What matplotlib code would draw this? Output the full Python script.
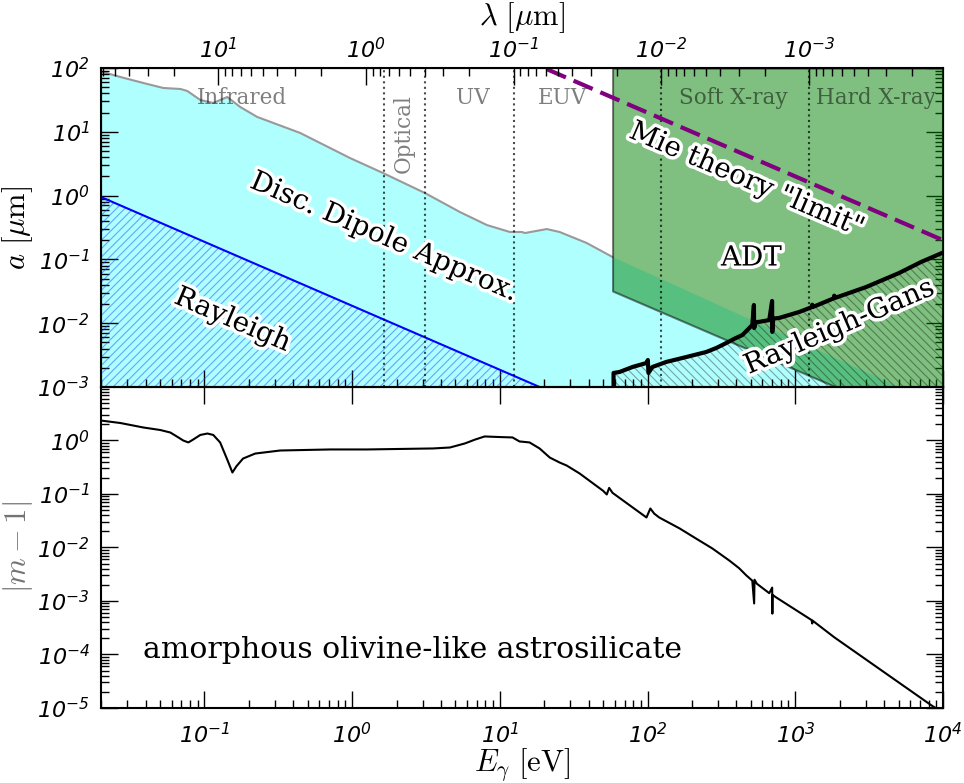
import numpy as np
import matplotlib
matplotlib.use('Agg')
import matplotlib.pyplot as plt
import matplotlib.patheffects as pe
from matplotlib.ticker import FuncFormatter, LogLocator, NullFormatter
from matplotlib.transforms import blended_transform_factory

plt.rcParams['mathtext.fontset'] = 'custom'
plt.rcParams['mathtext.rm'] = 'DejaVu Sans:italic'
plt.rcParams['mathtext.it'] = 'DejaVu Sans:italic'
plt.rcParams['mathtext.default'] = 'it'
plt.rcParams['hatch.linewidth'] = 0.8

HC = 1.23984  # eV * um

# --- top panel: regimes of validity (E in eV, a in um) ---
E_dda = [0.02, 0.0271, 0.0387, 0.0528, 0.0689, 0.0768, 0.094, 0.115, 0.143, 0.175,
         0.228, 0.446, 0.969, 1.62, 3.11, 5.37, 8.17, 11.7, 14.1, 14.8, 20.8, 25.4,
         38.7, 58.0]
a_dda = [88.0, 72.2, 58.2, 48.6, 46.9, 43.6, 31.5, 28.3, 35.1, 24.5,
         17.1, 9.58, 3.88, 2.26, 1.10, 0.553, 0.346, 0.269, 0.269, 0.259, 0.299, 0.269,
         0.181, 0.109]
E_dda_hi = [58.0, 5046.0, 10000.0]
a_dda_hi = [0.109, 0.001, 0.0005]

E_ray = [0.02, 18.6]
a_ray = [0.95, 0.001]

E_mie = [20.8, 10000.0]
a_mie = [96.0, 0.2]

E_adt = [58.0, 10000.0]
a_adt = [0.032, 0.00019]

E_rg = [58.9, 58.9, 64.7, 79.2, 98.5, 100.5, 101.5, 108, 134, 183, 250, 293, 342, 387,
        439, 512, 525, 527, 540, 571, 667, 697, 699, 710, 780, 1064, 1290, 1303, 1320,
        1820, 1836, 1850, 3020, 5046, 7100, 10000]
a_rg = [0.001, 0.00166, 0.00172, 0.00206, 0.00238, 0.00265, 0.00166, 0.00206, 0.00247,
        0.00295, 0.00354, 0.0041, 0.0049, 0.0057, 0.00653, 0.00937, 0.0193, 0.0084,
        0.0104, 0.0105, 0.0112, 0.0223, 0.0073, 0.0118, 0.0121, 0.015, 0.0178, 0.0195,
        0.018, 0.0245, 0.027, 0.0248, 0.0369, 0.0612, 0.091, 0.128]

# wavelength boundaries between bands (um)
lam_bounds = [0.75, 0.4, 0.1, 0.01, 0.001]
band_names = ['Infrared', 'UV', 'EUV', 'Soft X-ray', 'Hard X-ray']
band_E = [0.181, 6.57, 26.7, 381, 3525]
lam_ticks = [10, 1, 0.1, 0.01, 0.001]

# --- bottom panel: |m-1| of astrosilicate ---
E_m = [0.02, 0.0271, 0.0387, 0.0504, 0.0589, 0.0668, 0.072, 0.078, 0.084, 0.094,
       0.105, 0.115, 0.128, 0.143, 0.155, 0.165, 0.183, 0.221, 0.326, 0.71, 1.26,
       3.53, 4.6, 5.8, 6.8, 7.9, 10.0, 12.2, 13.6, 15.9, 18.6, 21.8, 25.4, 28.4, 34.7,
       50.0, 53.0, 55.0, 58.0, 98.4, 104.5, 111, 120, 165, 214, 275, 358, 417, 467,
       512, 527, 530, 550, 667, 698, 700, 702, 745, 1290, 1303, 1310, 1836, 8430, 10000]
m_1 = [2.36, 2.12, 1.75, 1.57, 1.41, 1.14, 1.0, 0.92, 1.04, 1.27,
       1.35, 1.27, 0.92, 0.44, 0.252, 0.33, 0.46, 0.57, 0.65, 0.68, 0.68,
       0.71, 0.74, 0.88, 1.04, 1.19, 1.16, 1.14, 0.96, 0.92, 0.71, 0.48, 0.388, 0.34, 0.242,
       0.115, 0.098, 0.13, 0.105, 0.0364, 0.0536, 0.043, 0.0364, 0.0227, 0.0146, 0.00958,
       0.0057, 0.0041, 0.003,
       0.0024, 0.0009, 0.0025, 0.0021, 0.0014, 0.00178, 0.00058, 0.0013, 0.00116,
       0.00044, 0.00038, 0.00043, 0.00021, 1.1e-5, 8.3e-6]


def pow10(v, pos):
    if v <= 0:
        return ''
    e = int(round(np.log10(v)))
    return r'$10^{%d}$' % e


def style_axis(ax):
    ax.tick_params(which='both', direction='in', right=True, top=False, labelsize=16)
    ax.tick_params(which='major', length=12, width=1.0)
    ax.tick_params(which='minor', length=6, width=1.0)
    for s in ax.spines.values():
        s.set_linewidth(1.5)


halo = [pe.withStroke(linewidth=5, foreground='w')]

fig = plt.figure(figsize=(9.64, 7.83), dpi=100)
ax1 = fig.add_axes([0.1048, 0.50575, 0.8734, 0.4074])
ax2 = fig.add_axes([0.1048, 0.09579, 0.8734, 0.40996], sharex=ax1)

# top panel
ax1.set_xscale('log')
ax1.set_yscale('log')
ax1.set_xlim(0.02, 1e4)
ax1.set_ylim(1e-3, 1e2)

ax1.fill_between(E_dda + E_dda_hi[1:], 1e-3, a_dda + a_dda_hi[1:], facecolor='#b0ffff',
                 lw=0, zorder=1)
ax1.plot(E_dda, a_dda, color='0.6', lw=1.5, zorder=1.5)
ax1.fill_between(E_ray, 1e-3, a_ray, facecolor='none', edgecolor=(0.1, 0.3, 1.0, 0.5),
                 hatch='////', lw=0, zorder=2)
ax1.plot(E_ray, a_ray, color='blue', lw=1.5, zorder=3)
ax1.fill_between(E_adt, a_adt, 1e2, facecolor='green', edgecolor='k', alpha=0.5, lw=1.5, zorder=3)
ax1.fill_between(E_rg, 1e-3, a_rg, facecolor='none', edgecolor=(0, 0, 0, 0.35),
                 hatch='\\\\\\\\', lw=0, zorder=4)
ax1.plot(E_rg, a_rg, color='k', lw=3, zorder=5)
ax1.plot(E_mie, a_mie, color='purple', lw=3, dashes=(5, 2), zorder=5)

for lam in lam_bounds:
    ax1.axvline(HC / lam, color='k', ls=':', lw=1.5, alpha=0.7, zorder=4)

tr = blended_transform_factory(ax1.transData, ax1.transAxes)
for name, e in zip(band_names, band_E):
    ax1.text(e, 0.905, name, transform=tr, ha='center', va='center', family='DejaVu Serif',
             size=15.5, color='k', alpha=0.5, zorder=6)
ax1.text(2.25, 0.796, 'Optical', transform=tr, ha='center', va='center', family='DejaVu Serif',
         size=15.5, color='k', alpha=0.5, rotation=90, zorder=6)

lab = dict(family='DejaVu Serif', size=20, ha='center', va='center', path_effects=halo, zorder=7)
ax1.text(1.64, 0.224, 'Disc. Dipole Approx.', rotation=-23.3, **lab)
ax1.text(0.155, 0.0112, 'Rayleigh', rotation=-23.3, **lab)
ax1.text(467, 1.76, 'Mie theory "limit"', rotation=-23.3, **lab)
ax1.text(505, 0.105, 'ADT', rotation=0, **lab)
ax1.text(1983, 0.0087, 'Rayleigh-Gans', rotation=23.3, **lab)

ax1.set_ylabel(r'$a\ [\mu\mathrm{m}]$', fontsize=22, labelpad=2, math_fontfamily='cm')
style_axis(ax1)
ax1.tick_params(labelbottom=False, bottom=True)

# wavelength axis on top
ax1t = ax1.twiny()
ax1t.set_xscale('log')
ax1t.set_xticks(lam_ticks)
ax1t.set_xlim(HC / 0.02, HC / 1e4)
ax1t.tick_params(which='both', direction='in', top=True, bottom=False, labelsize=16)
ax1t.tick_params(which='major', length=12, width=1.0, pad=4)
ax1t.tick_params(which='minor', length=6, width=1.0)
ax1t.xaxis.set_major_formatter(FuncFormatter(pow10))
ax1t.xaxis.set_minor_formatter(NullFormatter())
ax1t.set_xlabel(r'$\lambda\ [\mu\mathrm{m}]$', fontsize=22, labelpad=9, math_fontfamily='cm')

# bottom panel
ax2.set_yscale('log')
ax2.plot(E_m, m_1, color='k', lw=1.5)
ax2.text(0.0387, 1.19e-4, 'amorphous olivine-like astrosilicate', family='DejaVu Serif',
         size=21.5, ha='left', va='center')
ax2.set_ylabel(r'$|m-1|$', fontsize=22, color='0.45', labelpad=2, math_fontfamily='cm')
ax2.set_xlabel(r'$E_\gamma\ [\mathrm{eV}]$', fontsize=22, labelpad=0, math_fontfamily='cm')
style_axis(ax2)
ax2.tick_params(top=True)

ax1.yaxis.set_major_locator(LogLocator(base=10, numticks=20))
ax2.xaxis.set_major_locator(LogLocator(base=10, numticks=20))
for ax in (ax1, ax2):
    ax.yaxis.set_major_formatter(FuncFormatter(pow10))
    ax.yaxis.set_minor_formatter(NullFormatter())
ax2.xaxis.set_major_formatter(FuncFormatter(pow10))
ax2.xaxis.set_minor_formatter(NullFormatter())
ax2.set_yticks([1e-5, 1e-4, 1e-3, 1e-2, 1e-1, 1e0])
ax2.yaxis.set_minor_locator(LogLocator(base=10, subs=np.arange(2, 10), numticks=20))
ax2.set_ylim(1e-5, 1e1)

ax1.tick_params(axis='y', pad=8)
ax2.tick_params(axis='y', pad=8)
ax2.tick_params(axis='x', pad=10)

fig.savefig('out.png', dpi=100)
